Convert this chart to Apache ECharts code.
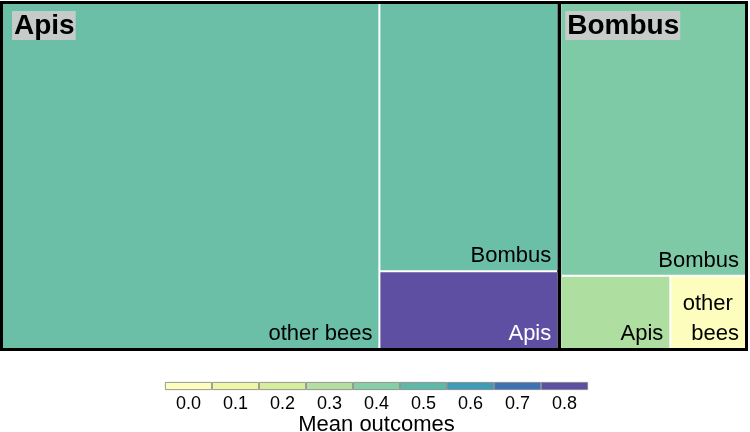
<!DOCTYPE html>
<html>
<head>
<meta charset="utf-8">
<script src="https://cdn.jsdelivr.net/npm/echarts@6/dist/echarts.min.js"></script>
<style>
html,body{margin:0;padding:0;background:#fff;}
#chart{width:750px;height:432px;}
</style>
</head>
<body>
<div id="chart"></div>
<script>
// ---- data ----
var groups = ['Apis', 'Bombus'];
var apisNames = ['other bees', 'Bombus', 'Apis'];
var apisSizes = [128.7, 47.3, 13.7];
var apisMeans = [0.47, 0.47, 0.80];
var bombusNames = ['Bombus', 'Apis', 'other bees'];
var bombusSizes = [50.3, 8.0, 5.5];
var bombusMeans = [0.42, 0.31, 0.00];
var legendTicks = ['0.0', '0.1', '0.2', '0.3', '0.4', '0.5', '0.6', '0.7', '0.8'];
var legendStops = [0.0, 0.1, 0.2, 0.3, 0.4, 0.5, 0.6, 0.7, 0.8];
var legendColors = ['#fdfebd', '#eef7a6', '#d6ee9b', '#b3e0a1', '#86cea5', '#5fb9a8', '#3f9cb8', '#3e72b4', '#5e4fa2'];

function hexToRgb(h){h=h.replace('#','');return [parseInt(h.substr(0,2),16),parseInt(h.substr(2,2),16),parseInt(h.substr(4,2),16)];}
function colorFor(v){
  if (v <= legendStops[0]) return legendColors[0];
  for (var i=1;i<legendStops.length;i++){
    if (v <= legendStops[i]){
      var t=(v-legendStops[i-1])/(legendStops[i]-legendStops[i-1]);
      var a=hexToRgb(legendColors[i-1]), b=hexToRgb(legendColors[i]);
      return 'rgb('+Math.round(a[0]+(b[0]-a[0])*t)+','+Math.round(a[1]+(b[1]-a[1])*t)+','+Math.round(a[2]+(b[2]-a[2])*t)+')';
    }
  }
  return legendColors[legendColors.length-1];
}
function leaves(names, sizes, means){
  return names.map(function(n,i){
    return {name:n, value:sizes[i], itemStyle:{color:colorFor(means[i])},
      label:{color: means[i] > 0.65 ? '#ffffff' : '#000000'}};
  });
}
function sum(a){return a.reduce(function(s,x){return s+x;},0);}

var FONT = '"Liberation Sans", Arial, sans-serif';
var treeData = [
  {name: groups[0], children: leaves(apisNames, apisSizes, apisMeans)},
  {name: groups[1], children: leaves(bombusNames, bombusSizes, bombusMeans)}
];
var headerPos = [[4, 2], [-1, 2]];
var headerData = groups.map(function(g, i){
  return {name: g, value: sum(i === 0 ? apisSizes : bombusSizes), label: {position: headerPos[i]}};
});

var common = {
  type: 'treemap',
  left: 0, top: 1, width: 748, height: 350,
  roam: false, nodeClick: false,
  breadcrumb: {show: false},
  animation: false,
  visibleMin: 0
};

var chart = echarts.init(document.getElementById('chart'), null, {renderer: 'canvas'});
chart.setOption({
  animation: false,
  series: [
    Object.assign({}, common, {
      data: treeData,
      label: {
        show: true, position: 'insideBottomRight', distance: 0, offset: [-1, 6],
        fontFamily: FONT, fontSize: 22, color: '#000',
        overflow: 'break', align: 'right', lineHeight: 30
      },
      upperLabel: {show: false},
      levels: [
        {itemStyle: {borderColor: '#000', borderWidth: 3, gapWidth: 4}},
        {itemStyle: {borderColor: '#fff', borderWidth: 0, gapWidth: 2}},
        {itemStyle: {borderWidth: 0}}
      ]
    }),
    Object.assign({}, common, {
      z: 5,
      silent: true,
      data: headerData,
      label: {
        show: true,
        formatter: '{h|{b}}',
        rich: {
          h: {
            fontFamily: FONT, fontSize: 28, fontWeight: 'bold', color: '#000',
            backgroundColor: 'rgba(204,204,204,0.92)', padding: [1, 1, 0, 2], lineHeight: 29
          }
        }
      },
      levels: [
        {itemStyle: {borderColor: 'rgba(0,0,0,0)', borderWidth: 3, gapWidth: 4}},
        {itemStyle: {borderWidth: 0, borderColor: 'rgba(0,0,0,0)', color: 'rgba(0,0,0,0)'}}
      ]
    }),
    {
      type: 'bar',
      xAxisIndex: 0, yAxisIndex: 0,
      barWidth: '100%', barCategoryGap: 0,
      animation: false, silent: true,
      data: legendTicks.map(function(t,i){
        return {value: 1, itemStyle: {color: legendColors[i], borderColor: '#808080', borderWidth: 0.8}};
      })
    }
  ],
  grid: {left: 165, top: 382, width: 423, height: 8, containLabel: false, outerBoundsMode: 'none'},
  xAxis: {
    type: 'category', data: legendTicks,
    axisLine: {show: false}, axisTick: {show: false},
    axisLabel: {fontFamily: FONT, fontSize: 18, color: '#000', margin: 5},
    name: 'Mean outcomes', nameLocation: 'middle', nameGap: 18,
    nameTextStyle: {fontFamily: FONT, fontSize: 22, color: '#000'}
  },
  yAxis: {type: 'value', min: 0, max: 1, show: false}
});
</script>
</body>
</html>
